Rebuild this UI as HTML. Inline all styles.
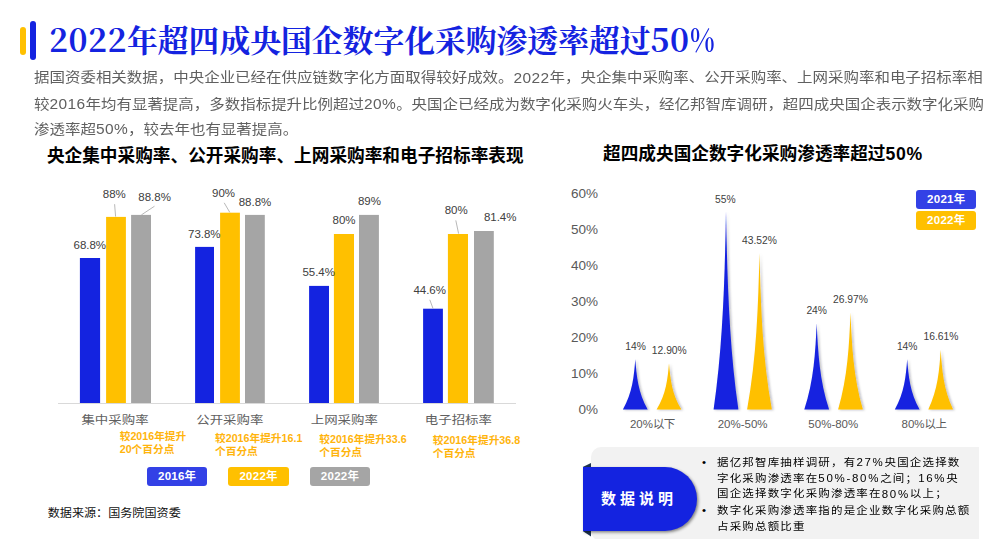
<!DOCTYPE html>
<html lang="zh-CN">
<head>
<meta charset="utf-8">
<title>2022年超四成央国企数字化采购渗透率超过50%</title>
<style>
*{margin:0;padding:0;box-sizing:border-box;}
html,body{width:1007px;height:539px;overflow:hidden;background:#fff;}
body{position:relative;font-family:"Liberation Sans","Noto Sans CJK SC",sans-serif;color:#404040;}
.abs{position:absolute;white-space:nowrap;}
.bar-y{left:20px;top:26.5px;width:6.3px;height:28px;border-radius:3.2px;background:#ffc000;}
.bar-b{left:29.8px;top:21px;width:6.3px;height:38.6px;border-radius:3.2px;background:#1423e0;}
.title{left:49px;top:15.5px;font-family:"Noto Serif CJK SC",serif;font-weight:700;font-size:30.8px;line-height:44px;color:#1423e0;}
.title b{font-weight:700;font-size:32px;letter-spacing:.5px;}
.title i{font-style:normal;display:inline-block;transform:scaleX(.8);transform-origin:0 50%;}
.intro{left:34px;top:65px;font-size:15.47px;line-height:29.66px;color:#606060;transform:scaleY(.87);transform-origin:0 0;}
.intro i{font-style:normal;letter-spacing:.4px;display:inline-block;transform:scaleY(1.15);}
.h2{font-weight:700;font-size:17.66px;color:#000;line-height:24px;}
.c{transform:translate(-50%,-50%);text-align:center;}
.m{transform:translate(0,-50%);}
.r{transform:translate(-100%,-50%);}
.dl{font-size:11.5px;line-height:14px;color:#404040;}
.dl2{font-size:10.3px;line-height:14px;color:#404040;}
.cat{font-size:13.45px;line-height:16px;color:#606060;}
.cat.c{transform:translate(-50%,-50%) scaleY(.87);}
.cat2{font-size:11.5px;line-height:16px;color:#595959;}
.ax{font-size:13.5px;line-height:16px;color:#595959;}
.note{font-size:10.7px;line-height:13px;font-weight:700;color:#ffb40c;}
.pill{border-radius:3px;color:#fff;font-weight:700;font-size:11.5px;text-align:center;letter-spacing:.25px;text-indent:.25px;}
.src{font-size:12.1px;line-height:16px;color:#111;}
.src.m{transform:translate(0,-50%) scaleY(.93);}
.gbox{left:591px;top:447.2px;width:388.3px;height:94.3px;border-radius:10px 0 0 10px;background:#f2f2f2;}
.blue{left:582.7px;top:467px;width:114.3px;height:64px;border-radius:0 32px 32px 0;background:#1423e0;box-shadow:1.5px 1.5px 3px rgba(0,0,0,.45);}
.blue span{position:absolute;left:18.3px;top:50%;transform:translateY(-50%);font-weight:700;font-size:15px;letter-spacing:4px;color:#fff;line-height:20px;}
.bul{left:717px;top:455.3px;font-size:11.5px;letter-spacing:1.17px;line-height:17.72px;color:#000;transform:scaleY(.9);transform-origin:0 0;}
.bul i{font-style:normal;letter-spacing:1.7px;display:inline-block;transform:scaleY(1.11);}
.dot{font-size:11.5px;line-height:15.95px;color:#000;}
</style>
</head>
<body>
<div class="abs bar-y"></div>
<div class="abs bar-b"></div>
<div class="abs title"><b>2022</b>年超四成央国企数字化采购渗透率超过<b>50<i>%</i></b></div>
<div class="abs intro">据国资委相关数据，中央企业已经在供应链数字化方面取得较好成效。<i>2022</i>年，央企集中采购率、公开采购率、上网采购率和电子招标率相<br>较<i>2016</i>年均有显著提高，多数指标提升比例超过<i>20%</i>。央国企已经成为数字化采购火车头，经亿邦智库调研，超四成央国企表示数字化采购<br>渗透率超<i>50%</i>，较去年也有显著提高。</div>
<div class="abs h2" style="left:46.9px;top:143.8px;">央企集中采购率、公开采购率、上网采购率和电子招标率表现</div>
<div class="abs h2" style="left:603px;top:141.5px;">超四成央国企数字化采购渗透率超过<span style="letter-spacing:.7px">50%</span></div>

<svg class="abs" style="left:0;top:0" width="1007" height="539" viewBox="0 0 1007 539">
<defs><filter id="sh" x="-20%" y="-5%" width="150%" height="115%"><feDropShadow dx="1.5" dy="0.4" stdDeviation="1.2" flood-color="#223" flood-opacity="0.3"/></filter></defs>
<rect x="79.9" y="258.0" width="20.2" height="145.0" fill="#1423e0"/>
<rect x="106.1" y="216.9" width="19.8" height="186.1" fill="#ffc000"/>
<rect x="131.1" y="214.9" width="19.9" height="188.1" fill="#a5a5a5"/>
<rect x="195.1" y="246.9" width="18.9" height="156.1" fill="#1423e0"/>
<rect x="220.1" y="212.7" width="19.8" height="190.3" fill="#ffc000"/>
<rect x="245.0" y="214.9" width="19.8" height="188.1" fill="#a5a5a5"/>
<rect x="309.1" y="285.9" width="19.9" height="117.1" fill="#1423e0"/>
<rect x="333.9" y="234.0" width="20.1" height="169.0" fill="#ffc000"/>
<rect x="359.0" y="214.9" width="19.9" height="188.1" fill="#a5a5a5"/>
<rect x="423.1" y="308.7" width="19.8" height="94.3" fill="#1423e0"/>
<rect x="447.9" y="234.0" width="20.1" height="169.0" fill="#ffc000"/>
<rect x="474.0" y="231.0" width="19.8" height="172.0" fill="#a5a5a5"/>
<line x1="58" y1="403.5" x2="516" y2="403.5" stroke="#d9d9d9" stroke-width="1"/>
<line x1="114.6" y1="204.2" x2="115.6" y2="216.6" stroke="#a6a6a6" stroke-width="0.8"/>
<line x1="154.5" y1="206.2" x2="141.4" y2="214.9" stroke="#a6a6a6" stroke-width="0.8"/>
<line x1="224.2" y1="202.8" x2="229.8" y2="212.4" stroke="#a6a6a6" stroke-width="0.8"/>
<line x1="455.8" y1="220.4" x2="458.6" y2="233.6" stroke="#a6a6a6" stroke-width="0.8"/>
<line x1="429.8" y1="299.8" x2="433" y2="308.5" stroke="#a6a6a6" stroke-width="0.8"/>
<g filter="url(#sh)"><path d="M622.90 409.6 C632.46 392.8 634.01 376.0 635.3 359.2 C636.59 376.0 638.14 392.8 647.70 409.6 Z" fill="#1423e0"/><path d="M656.60 409.6 C666.16 394.1 667.71 378.6 669 363.2 C670.29 378.6 671.84 394.1 681.40 409.6 Z" fill="#ffc000"/><path d="M713.60 409.6 C723.16 343.6 724.71 277.6 726 211.6 C727.29 277.6 728.84 343.6 738.40 409.6 Z" fill="#1423e0"/><path d="M747.10 409.6 C756.66 357.4 758.21 305.2 759.5 252.9 C760.79 305.2 762.34 357.4 771.90 409.6 Z" fill="#ffc000"/><path d="M804.30 409.6 C813.86 380.8 815.41 352.0 816.7 323.2 C817.99 352.0 819.54 380.8 829.10 409.6 Z" fill="#1423e0"/><path d="M838.10 409.6 C847.66 377.2 849.21 344.9 850.5 312.5 C851.79 344.9 853.34 377.2 862.90 409.6 Z" fill="#ffc000"/><path d="M894.80 409.6 C904.36 392.8 905.91 376.0 907.2 359.2 C908.49 376.0 910.04 392.8 919.60 409.6 Z" fill="#1423e0"/><path d="M928.30 409.6 C937.86 389.7 939.41 369.7 940.7 349.8 C941.99 369.7 943.54 389.7 953.10 409.6 Z" fill="#ffc000"/></g>
</svg>

<!-- left chart data labels -->
<div class="abs dl c" style="left:89.8px;top:244.5px;">68.8%</div>
<div class="abs dl c" style="left:114.3px;top:194.3px;">88%</div>
<div class="abs dl c" style="left:154.6px;top:197.2px;">88.8%</div>
<div class="abs dl c" style="left:204.3px;top:233.6px;">73.8%</div>
<div class="abs dl c" style="left:223.6px;top:193.3px;">90%</div>
<div class="abs dl c" style="left:255px;top:202px;">88.8%</div>
<div class="abs dl c" style="left:318.7px;top:272.3px;">55.4%</div>
<div class="abs dl c" style="left:344px;top:220.3px;">80%</div>
<div class="abs dl c" style="left:369.4px;top:201.2px;">89%</div>
<div class="abs dl c" style="left:429.7px;top:289.9px;">44.6%</div>
<div class="abs dl c" style="left:456.2px;top:210.4px;">80%</div>
<div class="abs dl c" style="left:500.2px;top:217.4px;">81.4%</div>

<div class="abs cat c" style="left:115px;top:421.2px;">集中采购率</div>
<div class="abs cat c" style="left:229.8px;top:421.2px;">公开采购率</div>
<div class="abs cat c" style="left:344.3px;top:421.2px;">上网采购率</div>
<div class="abs cat c" style="left:458.4px;top:421.2px;">电子招标率</div>

<div class="abs note" style="left:119.7px;top:429.9px;">较2016年提升<br>20个百分点</div>
<div class="abs note" style="left:215px;top:431.9px;">较2016年提升16.1<br>个百分点</div>
<div class="abs note" style="left:319.3px;top:433.4px;">较2016年提升33.6<br>个百分点</div>
<div class="abs note" style="left:432.8px;top:434.4px;">较2016年提升36.8<br>个百分点</div>

<div class="abs pill" style="left:147.2px;top:467px;width:59.8px;height:19px;line-height:19px;background:#3341e6;">2016年</div>
<div class="abs pill" style="left:228px;top:467px;width:61px;height:19px;line-height:19px;background:#ffc000;">2022年</div>
<div class="abs pill" style="left:309.8px;top:467px;width:60.2px;height:19px;line-height:19px;background:#a5a5a5;">2022年</div>

<div class="abs src m" style="left:47.7px;top:513px;">数据来源：国务院国资委</div>

<!-- right chart -->
<div class="abs ax r" style="left:598px;top:193.5px;">60%</div>
<div class="abs ax r" style="left:598px;top:229.5px;">50%</div>
<div class="abs ax r" style="left:598px;top:265.5px;">40%</div>
<div class="abs ax r" style="left:598px;top:301.5px;">30%</div>
<div class="abs ax r" style="left:598px;top:337.5px;">20%</div>
<div class="abs ax r" style="left:598px;top:373.5px;">10%</div>
<div class="abs ax r" style="left:598px;top:409.5px;">0%</div>

<div class="abs dl2 c" style="left:635.6px;top:347.2px;">14%</div>
<div class="abs dl2 c" style="left:669.3px;top:350.9px;">12.90%</div>
<div class="abs dl2 c" style="left:725.3px;top:199.5px;">55%</div>
<div class="abs dl2 c" style="left:759.4px;top:241.0px;">43.52%</div>
<div class="abs dl2 c" style="left:816.7px;top:311.2px;">24%</div>
<div class="abs dl2 c" style="left:850.4px;top:300.2px;">26.97%</div>
<div class="abs dl2 c" style="left:907.2px;top:346.8px;">14%</div>
<div class="abs dl2 c" style="left:940.9px;top:337.3px;">16.61%</div>

<div class="abs cat2 c" style="left:652.3px;top:424.2px;">20%<span style="letter-spacing:-.7px">以下</span></div>
<div class="abs cat2 c" style="left:742.6px;top:424.2px;">20%-50%</div>
<div class="abs cat2 c" style="left:833.3px;top:424.2px;">50%-80%</div>
<div class="abs cat2 c" style="left:923.9px;top:424.2px;">80%<span style="letter-spacing:-.7px">以上</span></div>

<div class="abs pill" style="left:916px;top:189.8px;width:60.3px;height:19.2px;line-height:19.2px;background:#3341e6;">2021年</div>
<div class="abs pill" style="left:916px;top:211px;width:60.3px;height:19.2px;line-height:19.2px;background:#ffc000;">2022年</div>

<!-- data note -->
<div class="abs gbox"></div>
<svg class="abs" style="left:575px;top:455px" width="30" height="84" viewBox="575 455 30 84">
<path d="M582.7 467 L591 467 L591 463 Z" fill="#1f3550"/>
<path d="M582.7 531 L591 531 L591 536.4 Z" fill="#1f3550"/>
</svg>
<div class="abs blue"><span>数据说明</span></div>
<div class="abs dot" style="left:702px;top:455.1px;">•</div>
<div class="abs dot" style="left:702px;top:502.95px;">•</div>
<div class="abs bul">据亿邦智库抽样调研，有<i>27%</i>央国企选择数<br>字化采购渗透率在<i>50%-80%</i>之间；<i>16%</i>央<br>国企选择数字化采购渗透率在<i>80%</i>以上；<br>数字化采购渗透率指的是企业数字化采购总额<br>占采购总额比重</div>
</body>
</html>
